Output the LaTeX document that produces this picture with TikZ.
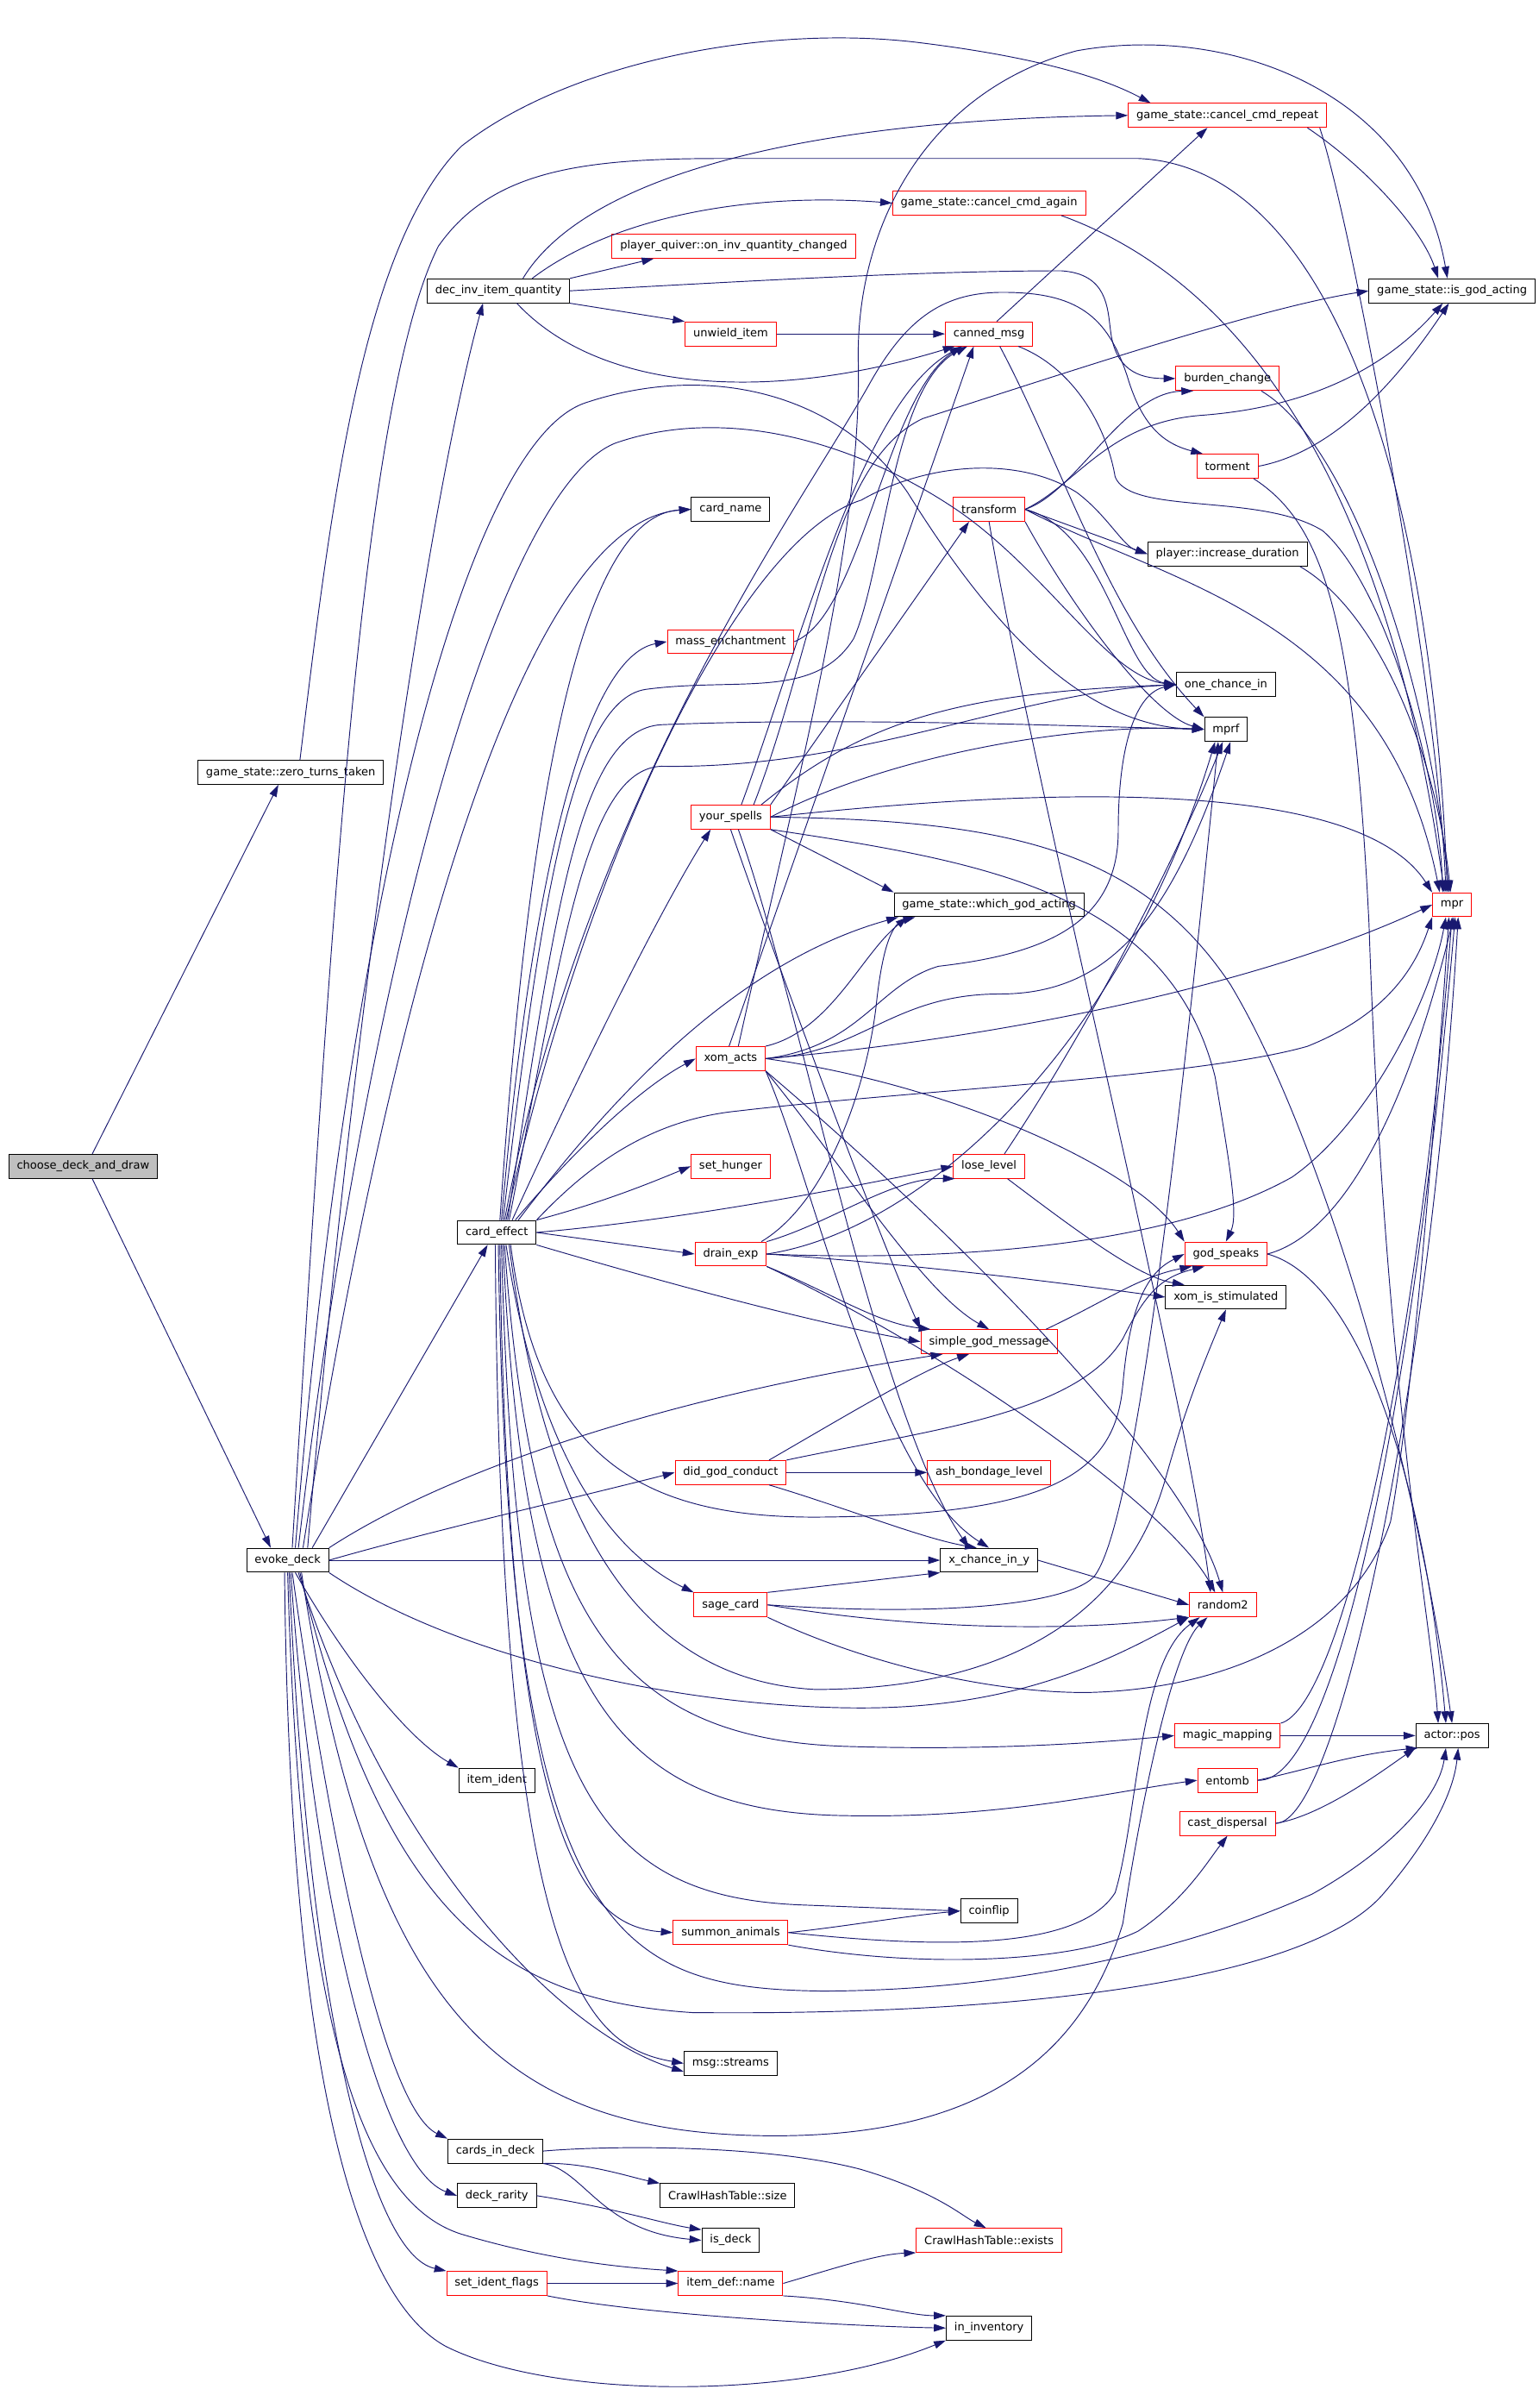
\documentclass[tikz,border=0pt]{standalone}
\usepackage{fontspec}
\setmainfont{DejaVu Sans}
\usetikzlibrary{arrows.meta}

\definecolor{callblue}{HTML}{191970}
\definecolor{rootgray}{HTML}{BFBFBF}
\newcommand\fnfont{\fontsize{10.4}{12}\selectfont}

\begin{document}
\begin{tikzpicture}[x=0.5mm, y=-0.5mm, >={Triangle[length=11pt,width=7pt]},
  fn/.style={draw, line width=0.8pt, fill=white, font=\fnfont, inner xsep=7.5pt, inner ysep=0pt, minimum height=0.78cm},
  fnred/.style={fn, draw=red},
  fnroot/.style={fn, fill=rootgray},
  calls/.style={->, draw=callblue, line width=0.75pt}]

  \useasboundingbox (0,0) rectangle (1000,1565);

  % Root and first ranks
  \node[fnroot] (cdd) at (54,758) {choose\_deck\_and\_draw};
  \node[fn] (zt) at (189,502) {game\_state::zero\_turns\_taken};
  \node[fn] (ed) at (187,1014) {evoke\_deck};
  \node[fn] (diq) at (324,189) {dec\_inv\_item\_quantity};
  \node[fn] (ce) at (323,801) {card\_effect};
  \node[fn] (ii) at (323,1157) {item\_ident};
  \node[fn] (cid) at (322,1398) {cards\_in\_deck};
  \node[fn] (dr) at (323,1427) {deck\_rarity};
  \node[fnred] (sif) at (323,1484) {set\_ident\_flags};

  % Column of card effects
  \node[fnred] (pq) at (477,160) {player\_quiver::on\_inv\_quantity\_changed};
  \node[fnred] (uw) at (475,217) {unwield\_item};
  \node[fn] (cn) at (475,331) {card\_name};
  \node[fnred] (me) at (475,417) {mass\_enchantment};
  \node[fnred] (ys) at (475,531) {your\_spells};
  \node[fnred] (xa) at (475,688) {xom\_acts};
  \node[fnred] (sh) at (475,758) {set\_hunger};
  \node[fnred] (de) at (475,815) {drain\_exp};
  \node[fnred] (dgc) at (475,957) {did\_god\_conduct};
  \node[fnred] (sc) at (475,1043) {sage\_card};
  \node[fnred] (sa) at (475,1256) {summon\_animals};
  \node[fn] (ms) at (475,1341) {msg::streams};
  \node[fn] (chs) at (473,1427) {CrawlHashTable::size};
  \node[fn] (isd) at (475,1456) {is\_deck};
  \node[fnred] (idn) at (475,1484) {item\_def::name};

  % Middle column
  \node[fnred] (cca) at (643,132) {game\_state::cancel\_cmd\_again};
  \node[fnred] (cm) at (643,217) {canned\_msg};
  \node[fnred] (tf) at (643,331) {transform};
  \node[fn] (wga) at (643,588) {game\_state::which\_god\_acting};
  \node[fnred] (ll) at (643,758) {lose\_level};
  \node[fnred] (sgm) at (643,872) {simple\_god\_message};
  \node[fnred] (abl) at (643,957) {ash\_bondage\_level};
  \node[fn] (xc) at (643,1014) {x\_chance\_in\_y};
  \node[fn] (cf) at (643,1242) {coinflip};
  \node[fnred] (che) at (643,1456) {CrawlHashTable::exists};
  \node[fn] (inv) at (643,1513) {in\_inventory};

  % Right columns
  \node[fnred] (ccr) at (798,75) {game\_state::cancel\_cmd\_repeat};
  \node[fnred] (bc) at (798,246) {burden\_change};
  \node[fnred] (tor) at (798,303) {torment};
  \node[fn] (pid) at (798,360) {player::increase\_duration};
  \node[fn] (oci) at (797,445) {one\_chance\_in};
  \node[fn] (mprf) at (797,474) {mprf};
  \node[fnred] (gs) at (797,815) {god\_speaks};
  \node[fn] (xis) at (797,843) {xom\_is\_stimulated};
  \node[fnred] (r2) at (795,1043) {random2};
  \node[fnred] (mm) at (798,1128) {magic\_mapping};
  \node[fnred] (ent) at (798,1157) {entomb};
  \node[fnred] (cd) at (798,1185) {cast\_dispersal};
  \node[fn] (iga) at (944,189) {game\_state::is\_god\_acting};
  \node[fnred] (mpr) at (944,588) {mpr};
  \node[fn] (ap) at (944,1128) {actor::pos};

  % choose_deck_and_draw
  \draw[calls] (cdd.north -| 60,0) -- (zt.south -| 181,0);
  \draw[calls] (cdd.south -| 60,0) -- (ed.north -| 176,0);

  % zero_turns_taken
  \draw[calls] (zt.north -| 195,0) .. controls (215,330) and (235,160) .. (300,95) .. controls (370,40) and (500,15) .. (600,28) .. controls (680,38) and (720,52) .. (ccr.north -| 748,0);

  % evoke_deck
  \draw[calls] (ed.north -| 200,0) .. controls (230,650) and (280,320) .. (diq.south -| 314,0);
  \draw[calls] (ed.north -| 203,0) -- (ce.south -| 317,0);
  \draw[calls] (ed.north -| 190,0) .. controls (215,600) and (235,260) .. (285,160) .. controls (320,110) and (380,103) .. (470,103) -- (740,103) .. controls (860,108) and (930,300) .. (mpr.north -| 941,0);
  \draw[calls] (ed.north -| 197,0) .. controls (245,700) and (330,340) .. (cn.west);
  \draw[calls] (ed.north -| 192,0) .. controls (225,600) and (300,290) .. (380,262) .. controls (460,235) and (545,255) .. (590,320) .. controls (640,400) and (700,472) .. (mprf.west);
  \draw[calls] (ed.north -| 194,0) .. controls (235,650) and (320,320) .. (400,288) .. controls (475,262) and (560,290) .. (620,330) .. controls (680,370) and (720,440) .. (oci.west);
  \draw[calls] (ed.north east) .. controls (300,950) and (450,905) .. (sgm.195);
  \draw[calls] (ed.east) .. controls (280,995) and (380,972) .. (dgc.west);
  \draw[calls] (ed.east) -- (xc.west);
  \draw[calls] (ed.south east) .. controls (300,1080) and (450,1110) .. (560,1110) .. controls (660,1110) and (720,1080) .. (r2.200);
  \draw[calls] (ed.south -| 196,0) .. controls (240,1300) and (320,1385) .. (495,1388) .. controls (620,1390) and (700,1350) .. (730,1250) .. controls (745,1150) and (765,1070) .. (r2.south -| 785,0);
  \draw[calls] (ed.south -| 195,0) .. controls (250,1250) and (330,1300) .. (450,1308) .. controls (650,1310) and (850,1290) .. (900,1230) .. controls (930,1195) and (945,1165) .. (ap.south -| 948,0);
  \draw[calls] (ed.south -| 194,0) .. controls (250,1200) and (360,1320) .. (ms.190);
  \draw[calls] (ed.south -| 192,0) .. controls (225,1080) and (265,1130) .. (ii.north west);
  \draw[calls] (ed.south -| 190,0) .. controls (215,1200) and (250,1370) .. (cid.north west);
  \draw[calls] (ed.south -| 189,0) .. controls (205,1250) and (250,1410) .. (dr.west);
  \draw[calls] (ed.south -| 188,0) .. controls (200,1300) and (240,1465) .. (sif.north west);
  \draw[calls] (ed.south -| 187,0) .. controls (195,1300) and (230,1430) .. (300,1452) .. controls (360,1470) and (410,1474) .. (idn.north west);
  \draw[calls] (ed.south -| 185,0) .. controls (188,1320) and (225,1490) .. (290,1525) .. controls (360,1560) and (520,1560) .. (inv.south west);

  % dec_inv_item_quantity
  \draw[calls] (diq.north -| 340,0) .. controls (380,115) and (520,78) .. (ccr.west);
  \draw[calls] (diq.north -| 346,0) .. controls (400,140) and (490,125) .. (cca.west);
  \draw[calls] (diq.north east) -- (pq.south -| 425,0);
  \draw[calls] (diq.east) .. controls (480,183) and (600,176) .. (690,176) .. controls (720,178) and (720,200) .. (722,215) .. controls (725,240) and (740,246) .. (bc.west);
  \draw[calls] (diq.south east) -- (uw.north west);
  \draw[calls] (diq.south -| 336,0) .. controls (390,255) and (500,262) .. (cm.200);

  % unwield_item, canned_msg, cancel commands
  \draw[calls] (uw.east) -- (cm.west);
  \draw[calls] (cm.north -| 648,0) -- (ccr.south -| 785,0);
  \draw[calls] (cm.south -| 650,0) .. controls (690,300) and (720,400) .. (mprf.north west);
  \draw[calls] (cm.south east -| 662,0) .. controls (700,240) and (720,280) .. (725,310) .. controls (735,335) and (820,320) .. (860,345) .. controls (900,380) and (935,500) .. (mpr.north -| 938,0);
  \draw[calls] (ccr.south -| 850,0) .. controls (890,110) and (925,150) .. (iga.north -| 935,0);
  \draw[calls] (ccr.south -| 858,0) .. controls (880,150) and (935,450) .. (mpr.north -| 940,0);
  \draw[calls] (cca.south east -| 690,0) .. controls (800,180) and (900,300) .. (mpr.north -| 939,0);

  % burden_change, torment, transform, player::increase_duration
  \draw[calls] (bc.south east -| 820,0) .. controls (880,290) and (930,450) .. (mpr.north -| 942,0);
  \draw[calls] (tor.east) .. controls (860,295) and (900,260) .. (iga.south -| 942,0);
  \draw[calls] (tor.south east -| 815,0) .. controls (860,340) and (880,400) .. (890,600) .. controls (900,900) and (930,1050) .. (ap.north -| 935,0);
  \draw[calls] (tf.east) .. controls (700,315) and (720,275) .. (780,270) .. controls (850,265) and (900,240) .. (iga.south -| 938,0);
  \draw[calls] (tf.east) .. controls (700,320) and (730,255) .. (bc.200);
  \draw[calls] (tf.east) -- (pid.west);
  \draw[calls] (tf.east) .. controls (720,345) and (730,440) .. (oci.west);
  \draw[calls] (tf.south east) .. controls (700,400) and (750,465) .. (mprf.west);
  \draw[calls] (tf.east) .. controls (760,380) and (900,400) .. (mpr.north -| 936,0);
  \draw[calls] (tf.south) .. controls (670,500) and (770,900) .. (r2.north -| 787,0);
  \draw[calls] (pid.south east -| 845,0) .. controls (900,400) and (935,500) .. (mpr.north -| 943,0);
  \draw[calls] (me.east) .. controls (560,400) and (575,260) .. (cm.south -| 625,0);

  % your_spells
  \draw[calls] (ys.north -| 482,0) .. controls (520,420) and (560,260) .. (cm.205);
  \draw[calls] (ys.north east) -- (tf.south west -| 630,0);
  \draw[calls] (ys.north -| 490,0) .. controls (530,420) and (540,300) .. (600,272) .. controls (700,240) and (820,200) .. (iga.west);
  \draw[calls] (ys.north -| 495,0) .. controls (560,470) and (620,450) .. (oci.west);
  \draw[calls] (ys.east) .. controls (580,490) and (700,470) .. (mprf.west);
  \draw[calls] (ys.east) .. controls (650,515) and (880,500) .. (mpr.north west);
  \draw[calls] (ys.east) .. controls (650,533) and (740,550) .. (800,640) .. controls (860,740) and (920,950) .. (ap.north);
  \draw[calls] (ys.south east) .. controls (640,560) and (760,580) .. (790,700) .. controls (800,760) and (805,790) .. (gs.north);
  \draw[calls] (ys.south east) -- (wga.north west);
  \draw[calls] (ys.south) .. controls (510,640) and (570,800) .. (sgm.north west);
  \draw[calls] (ys.south -| 480,0) .. controls (520,650) and (570,920) .. (xc.north -| 630,0);

  % xom_acts
  \draw[calls] (xa.north -| 480,0) .. controls (520,500) and (560,350) .. (558,236) .. controls (556,150) and (600,60) .. (700,33) .. controls (800,15) and (920,60) .. (iga.north -| 941,0);
  \draw[calls] (xa.north -| 474,0) -- (cm.south -| 633,0);
  \draw[calls] (xa.north east) .. controls (540,670) and (560,620) .. (wga.south west -| 590,0);
  \draw[calls] (xa.east) .. controls (560,680) and (570,640) .. (610,628) .. controls (680,620) and (727,600) .. (727,540) .. controls (727,480) and (740,450) .. (oci.west);
  \draw[calls] (xa.east) .. controls (560,685) and (580,646) .. (650,646) .. controls (720,646) and (760,600) .. (mprf.south -| 800,0);
  \draw[calls] (xa.east) .. controls (650,675) and (820,640) .. (mpr.west);
  \draw[calls] (xa.east) .. controls (620,705) and (740,760) .. (gs.north west);
  \draw[calls] (xa.south east) .. controls (550,760) and (600,840) .. (sgm.north);
  \draw[calls] (xa.south east) .. controls (530,770) and (570,960) .. (xc.north);
  \draw[calls] (xa.south east) .. controls (620,800) and (770,950) .. (r2.north);

  % card_effect
  \draw[calls] (ce.north -| 325,0) .. controls (345,500) and (380,335) .. (cn.west);
  \draw[calls] (ce.north -| 326,0) .. controls (350,520) and (390,425) .. (me.west);
  \draw[calls] (ce.north -| 327,0) .. controls (350,600) and (370,455) .. (420,448) .. controls (480,440) and (530,455) .. (555,415) .. controls (575,370) and (580,250) .. (cm.210);
  \draw[calls] (ce.north -| 328,0) .. controls (380,520) and (520,330) .. (565,250) .. controls (590,205) and (615,190) .. (652,190) .. controls (700,190) and (720,205) .. (733,245) .. controls (742,275) and (755,288) .. (tor.north west -| 782,0);
  \draw[calls] (ce.north -| 329,0) .. controls (380,560) and (480,350) .. (560,325) .. controls (600,302) and (660,295) .. (700,320) .. controls (720,335) and (730,355) .. (pid.west);
  \draw[calls] (ce.north -| 330,0) .. controls (360,600) and (375,474) .. (430,471) .. controls (550,466) and (700,472) .. (mprf.west);
  \draw[calls] (ce.north -| 331,0) .. controls (365,620) and (380,500) .. (430,498) .. controls (560,500) and (660,450) .. (oci.west);
  \draw[calls] (ce.north -| 333,0) .. controls (380,690) and (430,590) .. (ys.south west -| 462,0);
  \draw[calls] (ce.north -| 335,0) .. controls (380,740) and (420,705) .. (xa.west);
  \draw[calls] (ce.north -| 337,0) .. controls (400,710) and (480,625) .. (wga.south west -| 584,0);
  \draw[calls] (ce.north east) .. controls (380,760) and (420,728) .. (480,722) .. controls (600,708) and (780,700) .. (850,680) .. controls (900,660) and (920,630) .. (mpr.south west);
  \draw[calls] (ce.north east) .. controls (390,782) and (420,770) .. (sh.west);
  \draw[calls] (ce.east) .. controls (450,792) and (550,772) .. (ll.west);
  \draw[calls] (ce.east) -- (de.west);
  \draw[calls] (ce.south east) .. controls (420,830) and (520,858) .. (sgm.west);
  \draw[calls] (ce.south -| 332,0) .. controls (350,950) and (420,986) .. (530,986) .. controls (680,985) and (725,960) .. (730,900) .. controls (735,840) and (750,825) .. (gs.west);
  \draw[calls] (ce.south -| 331,0) .. controls (355,1000) and (420,1092) .. (530,1098) .. controls (640,1098) and (730,1060) .. (758,960) .. controls (772,910) and (785,880) .. (xis.south);
  \draw[calls] (ce.south -| 329,0) .. controls (350,950) and (400,1010) .. (sc.north west);
  \draw[calls] (ce.south -| 328,0) .. controls (345,1050) and (400,1130) .. (550,1135) .. controls (650,1138) and (720,1132) .. (mm.west);
  \draw[calls] (ce.south -| 327,0) .. controls (340,1100) and (400,1178) .. (550,1180) .. controls (650,1182) and (720,1165) .. (ent.west);
  \draw[calls] (ce.south -| 326,0) .. controls (335,1150) and (380,1232) .. (520,1238) -- (cf.west);
  \draw[calls] (ce.south -| 325,0) .. controls (330,1200) and (380,1252) .. (sa.west);
  \draw[calls] (ce.south -| 324,0) .. controls (330,1260) and (400,1292) .. (534,1294) .. controls (650,1294) and (766,1270) .. (853,1231) .. controls (900,1205) and (935,1170) .. (ap.south -| 940,0);
  \draw[calls] (ce.south -| 322,0) .. controls (325,1280) and (380,1330) .. (ms.west);

  % lose_level, drain_exp, god_speaks
  \draw[calls] (ll.north -| 653,0) .. controls (700,680) and (760,570) .. (mprf.south -| 795,0);
  \draw[calls] (ll.south east -| 655,0) .. controls (700,800) and (740,830) .. (xis.north west -| 770,0);
  \draw[calls] (de.north east) .. controls (540,795) and (580,765) .. (ll.200);
  \draw[calls] (de.north east -| 495,0) .. controls (540,780) and (565,700) .. (570,650) .. controls (574,615) and (580,600) .. (wga.south west -| 595,0);
  \draw[calls] (de.east) .. controls (600,800) and (730,680) .. (mprf.south -| 790,0);
  \draw[calls] (de.east) .. controls (620,820) and (760,810) .. (840,765) .. controls (890,730) and (930,650) .. (mpr.south -| 940,0);
  \draw[calls] (de.east) .. controls (600,822) and (700,835) .. (xis.west);
  \draw[calls] (de.south east) .. controls (540,840) and (570,860) .. (sgm.north west -| 605,0);
  \draw[calls] (de.south east) .. controls (620,880) and (760,980) .. (r2.north -| 790,0);
  \draw[calls] (gs.east) .. controls (880,800) and (920,700) .. (mpr.south -| 945,0);
  \draw[calls] (gs.east) .. controls (880,830) and (925,950) .. (ap.north -| 940,0);
  \draw[calls] (sgm.north east -| 680,0) .. controls (720,845) and (740,830) .. (gs.200);

  % did_god_conduct, x_chance_in_y, sage_card
  \draw[calls] (dgc.north east -| 500,0) .. controls (550,920) and (600,890) .. (sgm.south -| 630,0);
  \draw[calls] (dgc.east) -- (abl.west);
  \draw[calls] (dgc.south east -| 500,0) .. controls (550,980) and (600,1000) .. (xc.north -| 635,0);
  \draw[calls] (dgc.north east) .. controls (600,930) and (700,920) .. (730,870) .. controls (745,840) and (755,830) .. (gs.210);
  \draw[calls] (xc.east) -- (r2.west);
  \draw[calls] (sc.north east) -- (xc.south west);
  \draw[calls] (sc.east) .. controls (600,1060) and (700,1060) .. (r2.200);
  \draw[calls] (sc.east) .. controls (600,1050) and (690,1045) .. (711,1025) .. controls (740,990) and (770,700) .. (mprf.south -| 792,0);
  \draw[calls] (sc.south east) .. controls (560,1080) and (640,1100) .. (706,1100) .. controls (800,1098) and (880,1060) .. (904,989) .. controls (920,900) and (935,700) .. (mpr.south -| 942,0);

  % magic_mapping, entomb, cast_dispersal
  \draw[calls] (mm.east) -- (ap.west);
  \draw[calls] (mm.north east) .. controls (870,1110) and (920,900) .. (mpr.south -| 944,0);
  \draw[calls] (ent.east) .. controls (850,1150) and (880,1140) .. (ap.200);
  \draw[calls] (ent.east) .. controls (870,1160) and (920,900) .. (mpr.south -| 946,0);
  \draw[calls] (cd.east) .. controls (860,1180) and (900,1150) .. (ap.south west);
  \draw[calls] (cd.east) .. controls (870,1185) and (930,900) .. (mpr.south -| 948,0);

  % summon_animals
  \draw[calls] (sa.east) .. controls (550,1252) and (590,1245) .. (cf.west);
  \draw[calls] (sa.east) .. controls (600,1265) and (700,1270) .. (725,1230) .. controls (740,1180) and (740,1080) .. (r2.south -| 780,0);
  \draw[calls] (sa.south east) .. controls (600,1280) and (700,1275) .. (740,1255) .. controls (770,1235) and (785,1210) .. (cd.south);

  % deck helpers
  \draw[calls] (cid.east) .. controls (400,1394) and (500,1394) .. (560,1410) .. controls (610,1425) and (625,1440) .. (che.north -| 641,0);
  \draw[calls] (cid.south east) .. controls (380,1405) and (410,1415) .. (chs.north west);
  \draw[calls] (cid.south east) .. controls (380,1410) and (390,1450) .. (isd.west);
  \draw[calls] (dr.east) .. controls (400,1435) and (430,1445) .. (isd.160);
  \draw[calls] (sif.east) -- (idn.west);
  \draw[calls] (sif.south east) .. controls (420,1505) and (560,1512) .. (inv.west);
  \draw[calls] (idn.east) .. controls (540,1475) and (570,1465) .. (che.south west);
  \draw[calls] (idn.south east) .. controls (560,1495) and (590,1505) .. (inv.north west);

\end{tikzpicture}
\end{document}
